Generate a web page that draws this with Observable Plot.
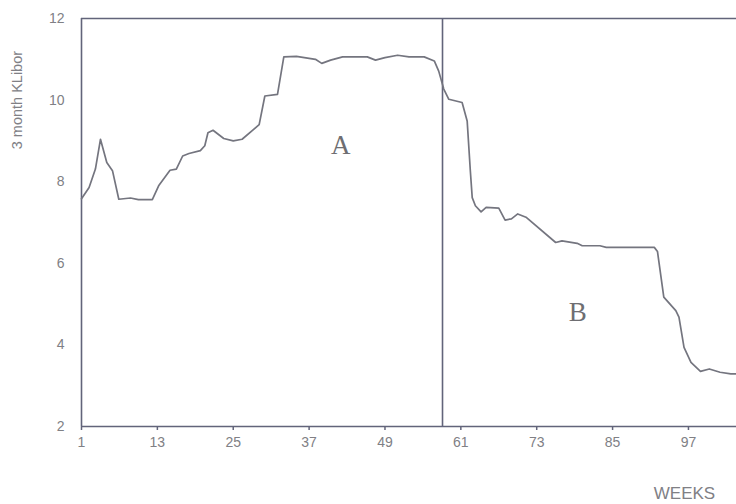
<!DOCTYPE html>
<html>
<head>
<meta charset="utf-8">
<script src="https://cdn.jsdelivr.net/npm/d3@7"></script>
<script src="https://cdn.jsdelivr.net/npm/@observablehq/plot@0.6"></script>
<style>
  html, body { margin: 0; padding: 0; background: #ffffff; }
  #chart svg { display: block; }
</style>
</head>
<body>
<div id="chart"></div>
<script>
// Week index and 3-month KLibor (%)
const weeks = [1, 2.2, 3.2, 4, 5, 5.9, 6.9, 8.75, 10, 12.2, 13.2, 15, 16, 17, 18, 19.8, 20.5, 21, 21.8, 23.5, 25, 26.4, 28, 29.1, 30, 32, 33, 35, 38, 39, 40.4, 42.3, 46.2, 47.5, 49, 51, 52.8, 55.2, 56.8, 57.5, 58.3, 59.1, 61.2, 62, 62.5, 62.8, 63.3, 64.2, 65, 67, 68, 69, 70, 71.3, 76, 77, 79.4, 80.2, 83, 84, 91.6, 92.1, 93.1, 95, 95.5, 96.3, 97.4, 98.9, 100.3, 102, 103.7, 104.6];
const libor = [7.58, 7.86, 8.31, 9.04, 8.47, 8.27, 7.57, 7.6, 7.56, 7.56, 7.9, 8.28, 8.31, 8.63, 8.69, 8.76, 8.88, 9.2, 9.26, 9.06, 9.0, 9.04, 9.25, 9.4, 10.1, 10.14, 11.06, 11.07, 11.0, 10.9, 10.98, 11.06, 11.06, 10.98, 11.04, 11.1, 11.06, 11.06, 10.96, 10.71, 10.27, 10.02, 9.94, 9.49, 8.27, 7.61, 7.41, 7.26, 7.37, 7.35, 7.06, 7.09, 7.21, 7.13, 6.51, 6.55, 6.49, 6.43, 6.43, 6.39, 6.39, 6.29, 5.17, 4.84, 4.68, 3.94, 3.57, 3.35, 3.41, 3.33, 3.29, 3.29];

const xTicks = [1, 13, 25, 37, 49, 61, 73, 85, 97];
const yTicks = [2, 4, 6, 8, 10, 12];
const divideWeek = [58.1];
const regionLabels = ["A", "B"];
const regionWeeks = [42, 79.5];
const regionValues = [8.9, 4.8];

const data = weeks.map((w, i) => ({week: w, rate: libor[i]}));
const regions = regionLabels.map((t, i) => ({label: t, week: regionWeeks[i], rate: regionValues[i]}));

const axisColor = "#62647a";
const textColor = "#808085";

const chart = Plot.plot({
  width: 736,
  height: 504,
  marginLeft: 81,
  marginRight: 0,
  marginTop: 18,
  marginBottom: 78,
  style: {background: "#ffffff", fontFamily: "Liberation Sans, Arial, sans-serif"},
  x: {domain: [1, 104.6]},
  y: {domain: [2, 12]},
  marks: [
    Plot.axisX({ticks: xTicks, tickFormat: d => d, tickSize: 4, tickPadding: 7, stroke: axisColor, strokeWidth: 1.5, fill: textColor, fontSize: 14, label: null}),
    Plot.axisY({ticks: yTicks, tickFormat: d => d, tickSize: 0, tickPadding: 17, fill: textColor, fontSize: 14, label: null}),
    Plot.ruleY([2], {stroke: axisColor, strokeWidth: 1.6}),
    Plot.ruleY([12], {stroke: axisColor, strokeWidth: 1.6}),
    Plot.ruleX([1], {stroke: axisColor, strokeWidth: 1.6}),
    Plot.ruleX(divideWeek, {stroke: axisColor, strokeWidth: 1.6}),
    Plot.line(data, {x: "week", y: "rate", stroke: "#74757f", strokeWidth: 1.7}),
    Plot.text(regions, {x: "week", y: "rate", text: "label", fontFamily: "Liberation Serif, Times New Roman, serif", fontSize: 27, fill: "#6e6e72"}),
    Plot.text(["3 month KLibor"], {x: 1, y: 10, dx: -64, rotate: -90, text: d => d, fontSize: 14.5, fill: textColor, letterSpacing: -0.6}),
    Plot.text(["WEEKS"], {x: 97, y: 2, dx: -4, dy: 67, text: d => d, fontSize: 17, fill: textColor})
  ]
});
document.getElementById("chart").appendChild(chart);
</script>
</body>
</html>
